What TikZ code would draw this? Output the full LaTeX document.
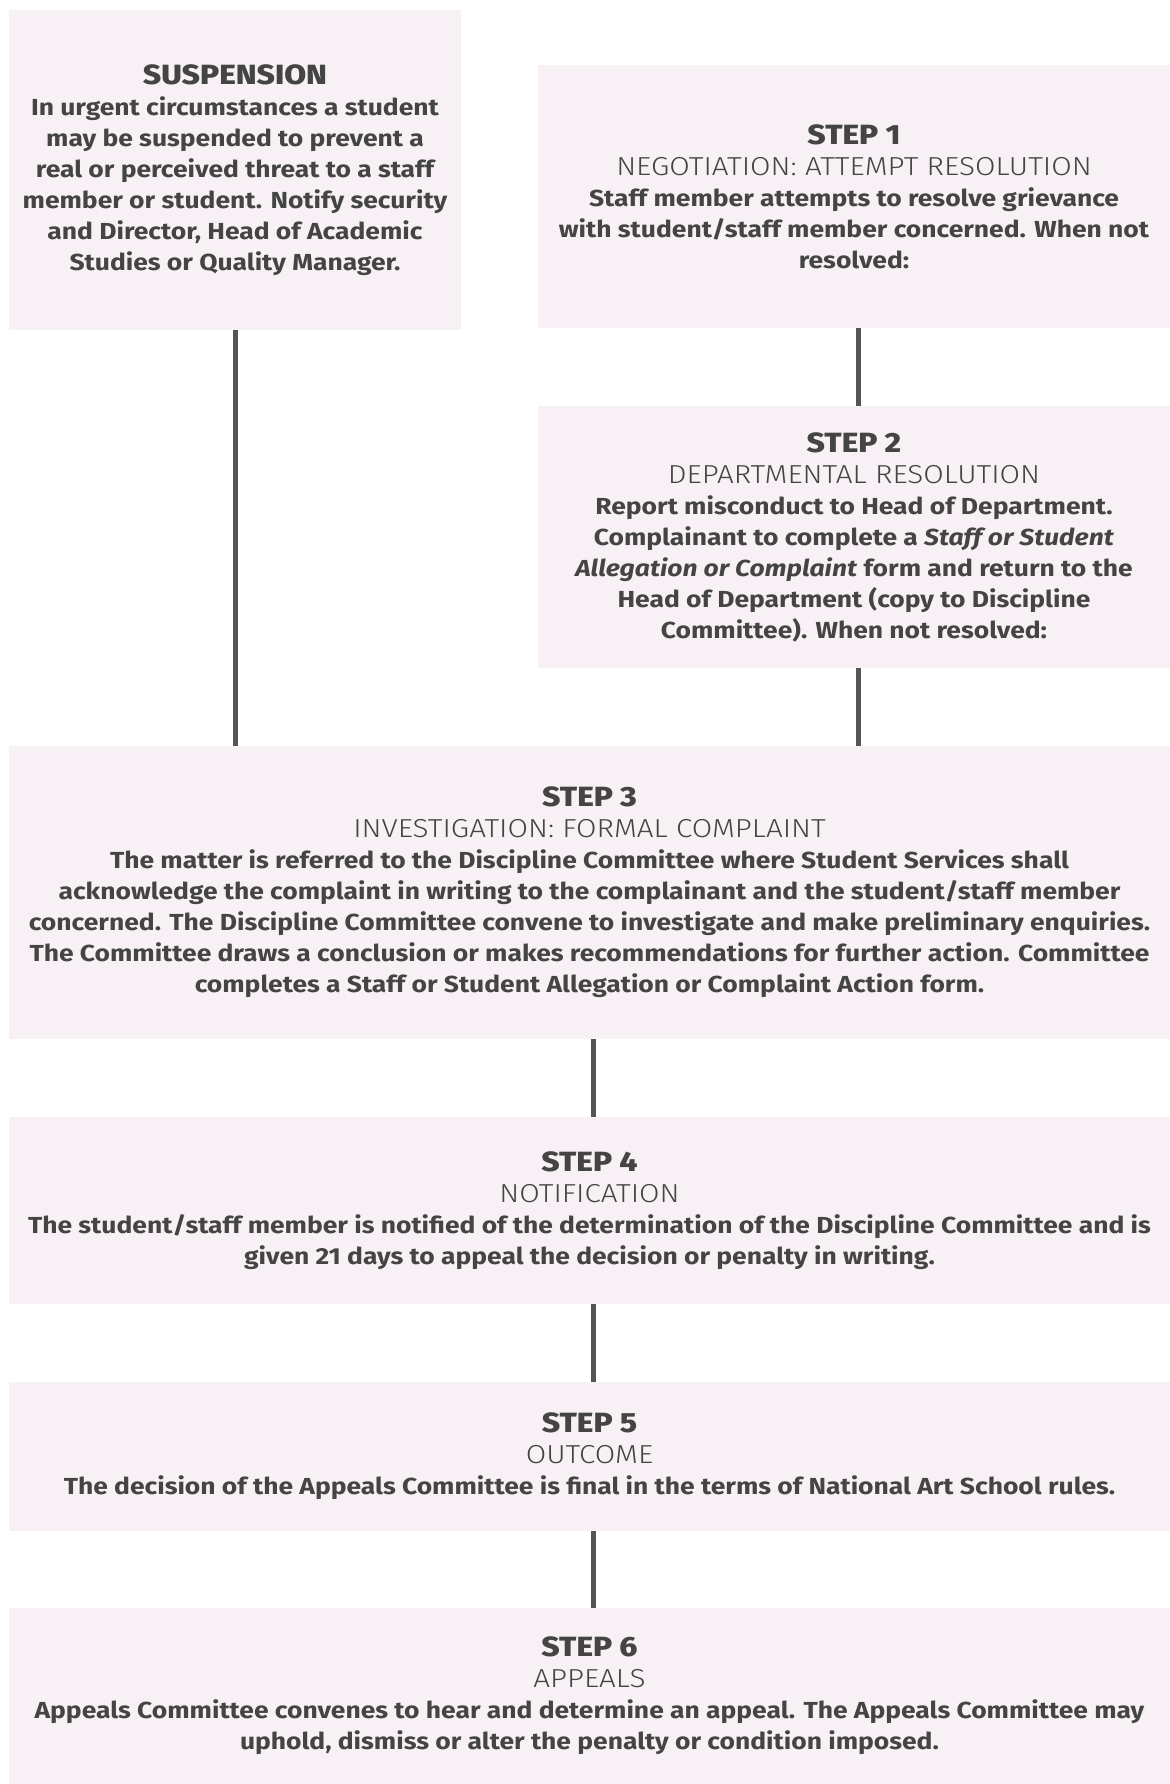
\documentclass[tikz,border=0pt]{standalone}
\usepackage{fontspec}
\newfontfamily\bodyfont{Fira Sans}[UprightFont=* Bold, ItalicFont=* Bold Italic, FakeStretch=1.14]
\newfontfamily\headfontface{Fira Sans ExtraBold}[FakeStretch=1.14]
\newfontfamily\subfontface{Fira Sans Light}[FakeStretch=1.14]
\newcommand{\headfont}{\headfontface\fontsize{13.9}{15.5}\selectfont}
\newcommand{\subfont}{\subfontface\fontsize{13}{15.5}\selectfont}
\definecolor{boxfill}{HTML}{F7F1F5}
\definecolor{ink}{HTML}{444444}
\definecolor{rule}{HTML}{555555}
\newcommand{\boxhead}[2]{{\headfont #1}\\{\subfont #2}\\}
\begin{document}
\begin{tikzpicture}[x=0.5pt, y=-0.5pt,
  panel/.style={fill=boxfill, draw=none, inner sep=0pt, align=center, text=ink,
    font=\bodyfont\fontsize{11.6}{15.5}\selectfont},
  link/.style={draw=rule, line width=2.5pt}]
  % page
  \fill[white] (0,0) rectangle (1170,1784);
  \useasboundingbox (0,0) rectangle (1170,1784);

  % left column: suspension
  \node[panel, minimum width=226pt, minimum height=160pt] (susp) at (235,170)
    {{\headfont SUSPENSION}\\
     In urgent circumstances a student\\
     may be suspended to prevent a\\
     real or perceived threat to a staff\\
     member or student. Notify security\\
     and Director, Head of Academic\\
     Studies or Quality Manager.};

  % right column: steps 1 and 2
  \node[panel, minimum width=316pt, minimum height=131.5pt] (s1) at (854,196.5)
    {\boxhead{STEP 1}{NEGOTIATION: ATTEMPT RESOLUTION}
     Staff member attempts to resolve grievance\\
     with student/staff member concerned. When not\\
     resolved:};

  \node[panel, minimum width=316pt, minimum height=131pt] (s2) at (854,537)
    {\boxhead{STEP 2}{DEPARTMENTAL RESOLUTION}
     Report misconduct to Head of Department.\\
     Complainant to complete a \textit{Staff or Student}\\
     \textit{Allegation or Complaint} form and return to the\\
     Head of Department (copy to Discipline\\
     Committee). When not resolved:};

  % full-width steps
  \node[panel, minimum width=580.5pt, minimum height=146.5pt] (s3) at (589.5,892.5)
    {\boxhead{STEP 3}{INVESTIGATION: FORMAL COMPLAINT}
     The matter is referred to the Discipline Committee where Student Services shall\\
     acknowledge the complaint in writing to the complainant and the student/staff member\\
     concerned. The Discipline Committee convene to investigate and make preliminary enquiries.\\
     The Committee draws a conclusion or makes recommendations for further action. Committee\\
     completes a Staff or Student Allegation or Complaint Action form.};

  \node[panel, minimum width=580.5pt, minimum height=93.5pt] (s4) at (589.5,1210.5)
    {\boxhead{STEP 4}{NOTIFICATION}
     The student/staff member is notified of the determination of the Discipline Committee and is\\
     given 21 days to appeal the decision or penalty in writing.};

  \node[panel, minimum width=580.5pt, minimum height=74.5pt] (s5) at (589.5,1456.5)
    {\boxhead{STEP 5}{OUTCOME}
     The decision of the Appeals Committee is final in the terms of National Art School rules.};

  \node[panel, minimum width=580.5pt, minimum height=88pt] (s6) at (589.5,1696)
    {\boxhead{STEP 6}{APPEALS}
     Appeals Committee convenes to hear and determine an appeal. The Appeals Committee may\\
     uphold, dismiss or alter the penalty or condition imposed.};

  % connectors
  \draw[link] (susp.south) -- (susp.south |- s3.north);
  \draw[link] ([xshift=2pt]s1.south) -- ([xshift=2pt]s2.north);
  \draw[link] ([xshift=2pt]s2.south) -- ([xshift=2pt]s2.south |- s3.north);
  \draw[link] ([xshift=2pt]s3.south) -- ([xshift=2pt]s4.north);
  \draw[link] ([xshift=2pt]s4.south) -- ([xshift=2pt]s5.north);
  \draw[link] ([xshift=2pt]s5.south) -- ([xshift=2pt]s6.north);
\end{tikzpicture}
\end{document}
